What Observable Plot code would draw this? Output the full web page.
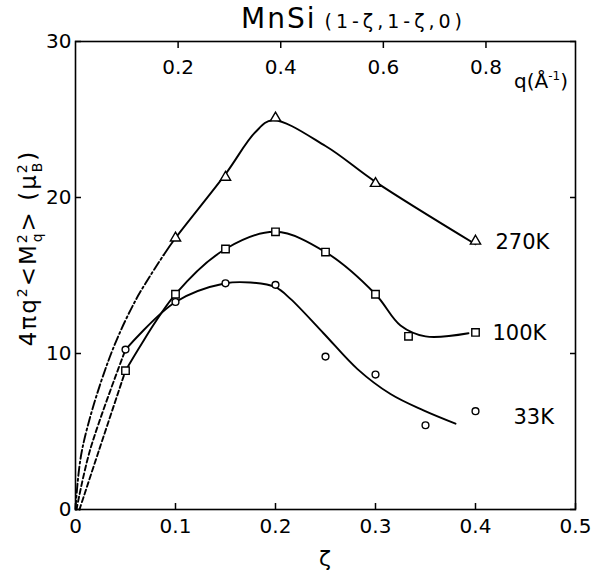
<!DOCTYPE html>
<html><head><meta charset="utf-8">
<script src="https://cdn.jsdelivr.net/npm/d3@7"></script>
<script src="https://cdn.jsdelivr.net/npm/@observablehq/plot@0.6"></script>
<style>body{margin:0;background:#fff} svg{font-family:"DejaVu Sans",sans-serif}</style>
</head><body><div id="chart"></div>
<script>
// tick labels
const xTicks = [0, 0.1, 0.2, 0.3, 0.4, 0.5];
const yTicks = [0, 10, 20, 30];
const qTicks = [0.2, 0.4, 0.6, 0.8];
const qPerZeta = 1.949; // q (Å^-1) per unit ζ along (1-ζ,1-ζ,0)

// measured points
const zeta270 = [0.1, 0.15, 0.2, 0.3, 0.4];
const val270  = [17.4, 21.3, 25.1, 20.9, 17.2];
const zeta100 = [0.05, 0.1, 0.15, 0.2, 0.25, 0.3, 0.333, 0.4];
const val100  = [8.9, 13.8, 16.7, 17.8, 16.5, 13.8, 11.1, 11.35];
const zeta33  = [0.05, 0.1, 0.15, 0.2, 0.25, 0.3, 0.35, 0.4];
const val33   = [10.25, 13.3, 14.5, 14.4, 9.8, 8.65, 5.4, 6.3];

// guide curves (solid parts)
const fit270X = [0.088, 0.1, 0.15, 0.18, 0.197, 0.25, 0.3, 0.4];
const fit270Y = [16.3, 17.4, 21.5, 24.2, 24.95, 23.3, 21.0, 17.0];
const fit100X = [0.05, 0.1, 0.15, 0.2, 0.25, 0.3, 0.325, 0.35, 0.393];
const fit100Y = [8.9, 13.8, 16.7, 17.8, 16.5, 13.8, 11.8, 11.1, 11.3];
const fit33X  = [0.05, 0.1, 0.15, 0.175, 0.2, 0.215, 0.248, 0.282, 0.315, 0.348, 0.38];
const fit33Y  = [10.25, 13.3, 14.5, 14.55, 14.25, 13.5, 11.3, 9.0, 7.4, 6.35, 5.5];
// extrapolations to the origin
const ext270X = [0, 0.0065, 0.033, 0.06, 0.088];
const ext270Y = [0, 3.8, 9.55, 13.4, 16.3];
const ext100X = [0.004, 0.0235, 0.05];
const ext100Y = [0, 3.8, 8.9];
const ext33X  = [0.001, 0.0145, 0.05];
const ext33Y  = [0, 3.8, 10.25];

// series labels
const seriesNames = ["270K", "100K", "33K"];
const seriesLabelX = [0.42, 0.417, 0.438];
const seriesLabelY = [17.1, 11.3, 5.9];

const pts = (xs, ys) => xs.map((x, i) => ({x, y: ys[i]}));
const lineOpts = {x: "x", y: "y", curve: "catmull-rom", stroke: "black", strokeWidth: 1.9};
const noText = () => "";

const plot = Plot.plot({
  width: 591, height: 575,
  marginLeft: 75, marginRight: 16, marginTop: 41, marginBottom: 66,
  style: {fontFamily: "DejaVu Sans", fontSize: "20px", background: "white"},
  x: {domain: [0, 0.5]},
  y: {domain: [0, 30]},
  marks: [
    Plot.axisX({ticks: xTicks, tickSize: 0, tickPadding: 9, tickFormat: d => String(d), label: null, fontSize: 20}),
    Plot.axisX({ticks: xTicks, tickSize: -6, tickFormat: noText, label: null, strokeWidth: 1.5}),
    Plot.axisX({anchor: "top", ticks: qTicks.map(q => q / qPerZeta), tickSize: -6, tickFormat: noText, label: null, strokeWidth: 1.5}),
    Plot.axisY({ticks: yTicks, tickSize: 0, tickPadding: 4, tickFormat: d => String(d), label: null, fontSize: 20}),
    Plot.axisY({ticks: yTicks, tickSize: -6, tickFormat: noText, label: null, strokeWidth: 1.5}),
    Plot.axisY({anchor: "right", ticks: yTicks, tickSize: -6, tickFormat: noText, label: null, strokeWidth: 1.5}),
    Plot.frame({stroke: "black", strokeWidth: 1.6}),
    Plot.text(qTicks, {x: q => q / qPerZeta, frameAnchor: "top", dy: 18, text: q => q.toFixed(1), fontSize: 20}),
    Plot.line(pts(fit270X, fit270Y), lineOpts),
    Plot.line(pts(fit100X, fit100Y), lineOpts),
    Plot.line(pts(fit33X, fit33Y), lineOpts),
    Plot.line(pts(ext270X, ext270Y), {...lineOpts, strokeDasharray: "9,3,2,3"}),
    Plot.line(pts(ext100X, ext100Y), {...lineOpts, strokeDasharray: "5,3"}),
    Plot.line(pts(ext33X, ext33Y), {...lineOpts, strokeDasharray: "5,3"}),
    Plot.dot(pts(zeta270, val270), {x: "x", y: "y", symbol: "triangle", r: 3.8, fill: "white", stroke: "black", strokeWidth: 1.4}),
    Plot.dot(pts(zeta100, val100), {x: "x", y: "y", symbol: "square", r: 4.2, fill: "white", stroke: "black", strokeWidth: 1.4}),
    Plot.dot(pts(zeta33, val33), {x: "x", y: "y", symbol: "circle", r: 3.4, fill: "white", stroke: "black", strokeWidth: 1.4}),
    Plot.text(seriesNames, {x: (d, i) => seriesLabelX[i], y: (d, i) => seriesLabelY[i], text: d => d, textAnchor: "start", fontSize: 21})
  ]
});
document.getElementById("chart").appendChild(plot);

const svg = d3.select(plot);
// title
const t = svg.append("text").attr("x", 241).attr("y", 28).attr("text-anchor", "start").attr("fill", "black");
t.append("tspan").attr("font-size", 28).attr("letter-spacing", 2).text("MnSi");
t.append("tspan").attr("font-size", 19).attr("letter-spacing", 4).attr("dx", 8).text("(1-ζ,1-ζ,0)");
// q label
const q = svg.append("text").attr("x", 514).attr("y", 88).attr("text-anchor", "start").attr("font-size", 20).attr("fill", "black");
q.append("tspan").text("q(Å");
q.append("tspan").attr("font-size", 12).attr("dy", -8).text("-1");
q.append("tspan").attr("dy", 8).text(")");
// x label
svg.append("text").attr("x", 325).attr("y", 566).attr("text-anchor", "middle").attr("font-size", 22).attr("fill", "black").text("ζ");
// y label
const yl = svg.append("text").attr("transform", "translate(36,248) rotate(-90)").attr("text-anchor", "middle").attr("font-size", 23).attr("letter-spacing", 2).attr("fill", "black");
yl.append("tspan").text("4πq");
yl.append("tspan").attr("font-size", 14).attr("dy", -9).text("2");
yl.append("tspan").attr("dy", 9).text("<M");
yl.append("tspan").attr("font-size", 14).attr("dy", -9).text("2");
yl.append("tspan").attr("font-size", 14).attr("dx", -10).attr("dy", 15).text("q");
yl.append("tspan").attr("dy", -6).text("> (μ");
yl.append("tspan").attr("font-size", 14).attr("dy", -9).text("2");
yl.append("tspan").attr("font-size", 14).attr("dx", -10).attr("dy", 15).text("B");
yl.append("tspan").attr("dy", -6).text(")");
</script>
</body></html>
